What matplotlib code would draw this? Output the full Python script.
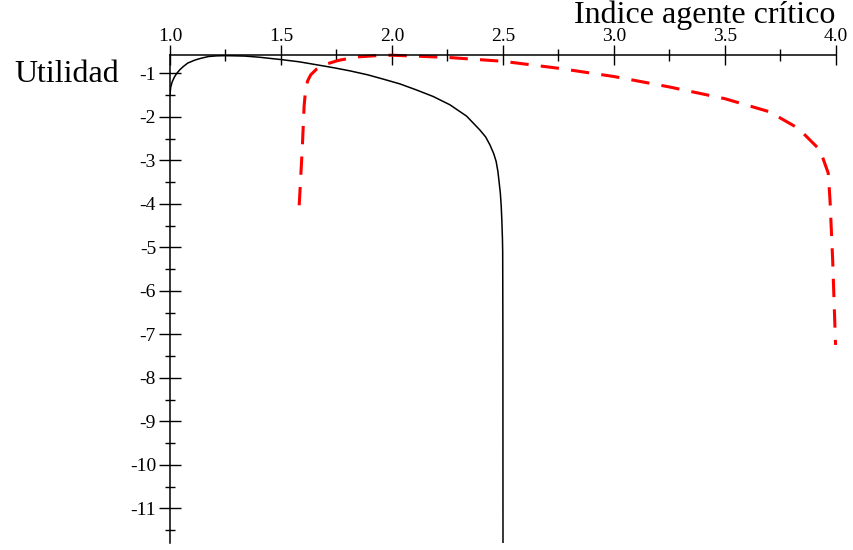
import matplotlib
matplotlib.use("Agg")
import matplotlib.pyplot as plt
from matplotlib.ticker import MultipleLocator, FixedLocator, FuncFormatter

# ---- data ----
black_x = [1.0, 1.003, 1.010, 1.02, 1.03, 1.045, 1.06, 1.08, 1.113, 1.14, 1.173, 1.21,
           1.248, 1.3, 1.338, 1.4, 1.5, 1.58, 1.661, 1.74, 1.811, 1.89, 1.961, 2.036,
           2.111, 2.186, 2.261, 2.336, 2.396, 2.422, 2.441, 2.458, 2.469, 2.477, 2.483,
           2.488, 2.492, 2.495, 2.4975, 2.4986, 2.4995, 2.5]
black_y = [-1.49, -1.32, -1.19, -1.08, -1.00, -0.91, -0.84, -0.76, -0.69, -0.65, -0.61,
           -0.595, -0.59, -0.595, -0.60, -0.625, -0.68, -0.73, -0.80, -0.87, -0.94,
           -1.03, -1.13, -1.24, -1.38, -1.53, -1.72, -1.98, -2.30, -2.46, -2.64, -2.84,
           -3.02, -3.25, -3.52, -3.75, -4.05, -4.4, -4.8, -5.1, -7.0, -12.0]

red_x = [1.582, 1.596, 1.604, 1.611, 1.62, 1.634, 1.66, 1.694, 1.758, 1.841, 1.93,
         2.0, 2.25, 2.5, 2.75, 3.0, 3.25, 3.5, 3.7, 3.83, 3.928, 3.965, 3.973, 3.985,
         3.998]
red_y = [-4.03, -2.70, -1.76, -1.36, -1.17, -1.03, -0.90, -0.80, -0.70, -0.62, -0.59,
         -0.58, -0.63, -0.72, -0.88, -1.07, -1.31, -1.58, -1.88, -2.26, -2.76, -3.29,
         -3.91, -5.29, -7.24]

x_major = [1.0, 1.5, 2.0, 2.5, 3.0, 3.5, 4.0]
y_major = [-1, -2, -3, -4, -5, -6, -7, -8, -9, -10, -11]

xlabel = "Indice agente crítico"
ylabel = "Utilidad"

# ---- figure ----
W, H = 854, 550
fig = plt.figure(figsize=(W / 100, H / 100), dpi=100)
plt.rcParams['font.family'] = ['Liberation Serif', 'DejaVu Serif']

left, right, top, bottom = 170, 836, 55, 543.3
ax = fig.add_axes([left / W, 1 - bottom / H, (right - left) / W, (bottom - top) / H])
ax.set_xlim(1.0, 4.0)
ax.set_ylim(-11.8, -0.575)

ax.plot(black_x, black_y, color='black', lw=1.1, clip_on=True,
        solid_joinstyle='round', antialiased=True)
ax.plot(red_x, red_y, color='#ff0000', lw=2.2, dashes=(6, 4), clip_on=False)

for s in ['right', 'bottom']:
    ax.spines[s].set_visible(False)
for s in ['left', 'top']:
    ax.spines[s].set_linewidth(1.1)
    ax.spines[s].set_color('black')

ax.xaxis.tick_top()
ax.xaxis.set_major_locator(FixedLocator(x_major))
ax.xaxis.set_minor_locator(MultipleLocator(0.25))
ax.xaxis.set_major_formatter(FuncFormatter(lambda v, p: f"{v:.1f}"))
ax.yaxis.set_major_locator(FixedLocator(y_major))
ax.yaxis.set_minor_locator(MultipleLocator(0.5))
ax.yaxis.set_major_formatter(FuncFormatter(lambda v, p: f"{int(round(v))}"))

ax.tick_params(axis='x', which='major', direction='inout', length=14, width=1.0,
               labelsize=14, pad=0)
ax.tick_params(axis='x', which='minor', direction='inout', length=8, width=1.0)
ax.tick_params(axis='y', which='major', direction='inout', length=16, width=1.0,
               labelsize=14, pad=2)
ax.tick_params(axis='y', which='minor', direction='inout', length=7, width=1.0)

fig.text(835 / W, 1 - 23 / H, xlabel, ha='right', va='baseline', fontsize=23)
fig.text(14 / W, 1 - 74 / H, ylabel, ha='left', va='center', fontsize=23)

fig.savefig("out.png", dpi=100)
